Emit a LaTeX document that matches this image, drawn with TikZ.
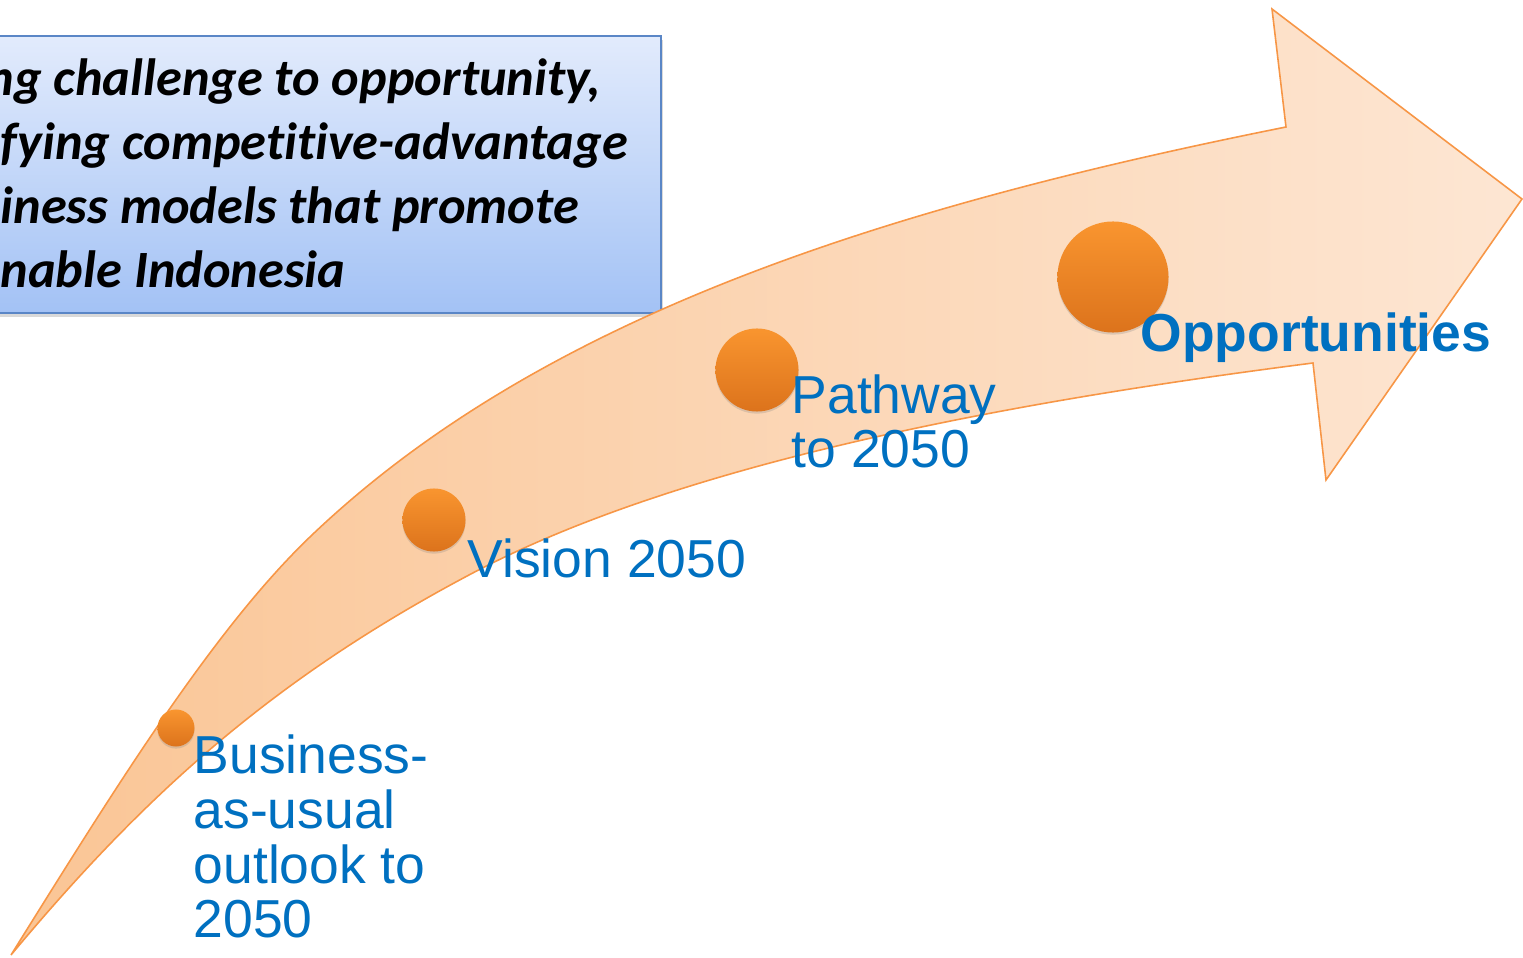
\documentclass[tikz,border=0pt]{standalone}
\usepackage{fontspec}
\setmainfont{Liberation Sans}
\newfontfamily\calfont[Ligatures=NoCommon]{Carlito}
\usetikzlibrary{shadows}
\definecolor{labelblue}{HTML}{0070C0}
\definecolor{arrowline}{HTML}{F79646}
\definecolor{arrowdark}{HTML}{FAC595}
\definecolor{arrowlight}{HTML}{FDE6D3}
\definecolor{balltop}{HTML}{F9952F}
\definecolor{ballbot}{HTML}{DC731C}
\definecolor{boxtop}{HTML}{E2EBFC}
\definecolor{boxbot}{HTML}{A3C2F5}
\definecolor{boxline}{HTML}{5A86C6}

\begin{document}
\begin{tikzpicture}[x=0.01cm, y=-0.01cm]
	\tikzstyle{Ball} = [circle, inner sep=0pt, top color=balltop, bottom color=ballbot, drop shadow={shadow xshift=0pt, shadow yshift=-0.6pt, opacity=0.25}]
	\tikzstyle{Label} = [inner sep=0pt, anchor=base west, align=left, text=labelblue, font=\fontsize{15.2}{15.6}\selectfont]
	\tikzstyle{Trend} = [draw=arrowline, line width=0.45pt, left color=arrowdark, right color=arrowlight]
	
	\useasboundingbox (0,0) rectangle (1523,958);
	\clip (0,0) rectangle (1523,958);
	
	% goal box
	\node (goal) [rectangle, draw=boxline, line width=0.5pt, top color=boxtop, bottom color=boxbot, minimum width=6.81cm, minimum height=2.77cm, drop shadow={shadow xshift=0.6pt, shadow yshift=-1.2pt, opacity=0.3}] at (320.5,174.5) {};
	\node (goalText) [inner sep=0pt, anchor=base west, align=left, font=\calfont\bfseries\itshape\fontsize{14.9}{18.2}\selectfont] at (0,288) {\hspace*{-4pt}ng challenge to opportunity,\\fying competitive-advantage\\iness models that promote\\nable Indonesia};
	
	% curved arrow
	\draw [Trend] (11,955) .. controls (111,795) and (212,630) .. (312,535)
		.. controls (542,316) and (886,207) .. (1286,127)
		-- (1272,9) -- (1522,199) -- (1326,480) -- (1313,363)
		.. controls (1033,399) and (689,458) .. (469,575)
		.. controls (269,681) and (141,799) .. cycle;
	
	\node (bau) [Ball, minimum size=0.37cm] at (176,728) {};
	\node (vision) [Ball, minimum size=0.63cm] at (434,520) {};
	\node (pathway) [Ball, minimum size=0.83cm] at (757,370) {};
	\node (opp) [Ball, minimum size=1.11cm] at (1113,277) {};
	
	\node (bauText) [Label] at (193,938) {Business-\\as-usual\\outlook to\\2050};
	\node (visionText) [Label] at (467,578) {Vision 2050};
	\node (pathwayText) [Label] at (791,468) {Pathway\\to 2050};
	\node (oppText) [Label, font=\fontsize{15.2}{15.6}\selectfont\bfseries] at (1140,352) {Opportunities};
\end{tikzpicture}
\end{document}
